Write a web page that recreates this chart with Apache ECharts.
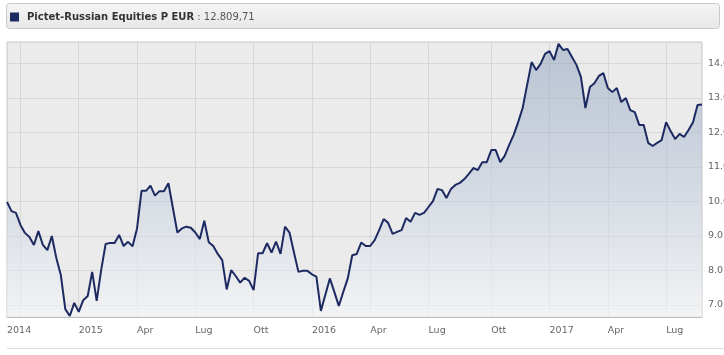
<!DOCTYPE html>
<html>
<head>
<meta charset="utf-8">
<script src="https://cdn.jsdelivr.net/npm/echarts@6/dist/echarts.min.js"></script>
<style>
html,body{margin:0;padding:0;background:#fff;}
#chart{width:724px;height:355px;}
</style>
</head>
<body>
<div id="chart"></div>
<script>
// ---- data ----
var seriesName = 'Pictet-Russian Equities P EUR';
var lastValueText = '12.809,71';
var startDate = '2014-09-09';   // first weekly observation
var monthNames = ['Gen','Feb','Mar','Apr','Mag','Giu','Lug','Ago','Set','Ott','Nov','Dic'];
var quarterTicks = ['2014-10-01','2015-01-01','2015-04-01','2015-07-01','2015-10-01','2016-01-01','2016-04-01','2016-07-01','2016-10-01','2017-01-01','2017-04-01','2017-07-01'];
var navValues = [
 9.99, 9.72, 9.67, 9.32, 9.09, 8.97, 8.74, 9.14, 8.74, 8.59,
 9.00, 8.36, 7.87, 6.88, 6.68, 7.06, 6.80, 7.14, 7.26, 7.96,
 7.12, 8.01, 8.77, 8.80, 8.80, 9.03, 8.71, 8.83, 8.70, 9.22,
 10.31, 10.31, 10.46, 10.17, 10.30, 10.30, 10.53, 9.81, 9.10, 9.22,
 9.27, 9.24, 9.10, 8.91, 9.44, 8.82, 8.71, 8.48, 8.30, 7.45,
 8.01, 7.84, 7.65, 7.79, 7.70, 7.43, 8.50, 8.50, 8.79, 8.52,
 8.84, 8.48, 9.27, 9.10, 8.52, 7.96, 7.99, 7.99, 7.89, 7.82,
 6.83, 7.30, 7.77, 7.38, 6.97, 7.38, 7.77, 8.44, 8.48, 8.81,
 8.71, 8.71, 8.88, 9.17, 9.49, 9.38, 9.06, 9.12, 9.17, 9.52,
 9.41, 9.67, 9.61, 9.67, 9.84, 10.01, 10.36, 10.33, 10.10, 10.36,
 10.48, 10.54, 10.65, 10.80, 10.97, 10.91, 11.14, 11.14, 11.49, 11.49,
 11.14, 11.32, 11.64, 11.93, 12.30, 12.71, 13.38, 14.04, 13.81, 13.99,
 14.28, 14.36, 14.10, 14.57, 14.39, 14.42, 14.19, 13.96, 13.61, 12.71,
 13.32, 13.43, 13.64, 13.72, 13.29, 13.17, 13.29, 12.88, 13.00, 12.65,
 12.59, 12.22, 12.22, 11.70, 11.61, 11.70, 11.78, 12.30, 12.04, 11.81,
 11.96, 11.87, 12.07, 12.30, 12.80, 12.81
];

// ---- weekly date categories ----
function pad(n){return (n<10?'0':'')+n;}
var t0 = Date.parse(startDate + 'T00:00:00Z');
var dates = [];
for (var i = 0; i < navValues.length; i++) {
  var d = new Date(t0 + i * 7 * 86400000);
  dates.push(d.getUTCFullYear() + '-' + pad(d.getUTCMonth()+1) + '-' + pad(d.getUTCDate()));
}
function ts(s){return Date.parse(s + 'T00:00:00Z');}
// nearest category for each quarter start
var tickIdx = {};
quarterTicks.forEach(function(q){
  var best = 0, bd = Infinity;
  for (var i = 0; i < dates.length; i++) {
    var dd = Math.abs(ts(dates[i]) - ts(q));
    if (dd < bd) { bd = dd; best = i; }
  }
  tickIdx[best] = q;
});
var labelIdx = {0: startDate.slice(0,4)};
Object.keys(tickIdx).forEach(function(k){
  var idx = +k;
  if (idx < 6) return; // hidden: overlaps the first label
  var q = tickIdx[k];
  var m = +q.slice(5,7) - 1;
  labelIdx[idx] = m === 0 ? q.slice(0,4) : monthNames[m];
});

var chart = echarts.init(document.getElementById('chart'), null, {renderer:'canvas'});
var option = {
  animation: false,
  backgroundColor: '#ffffff',
  textStyle: {fontFamily: 'DejaVu Sans'},
  graphic: [
    {type:'rect', z:-1, shape:{x:6.5, y:3.5, width:713, height:25, r:3},
     style:{fill:new echarts.graphic.LinearGradient(0,0,0,1,[{offset:0,color:'#f5f5f5'},{offset:1,color:'#e7e7e7'}]), stroke:'#c9c9c9', lineWidth:1}},
    {type:'line', shape:{x1:7, y1:348.5, x2:724, y2:348.5}, style:{stroke:'#dcdcdc', lineWidth:1}}
  ],
  legend: {
    left: 10, top: 12, padding: 0,
    itemWidth: 9, itemHeight: 9, itemGap: 6,
    icon: 'rect',
    data: [seriesName],
    formatter: function(name){ return '{b|' + name + '}{n| : ' + lastValueText + '}'; },
    textStyle: {
      padding: [0,0,0,3],
      rich: {
        b: {fontFamily:'DejaVu Sans', fontWeight:'bold', fontSize:10, color:'#333'},
        n: {fontFamily:'DejaVu Sans', fontSize:10, color:'#555'}
      }
    }
  },
  grid: {left:7, right:22, top:42, bottom:38, show:true, outerBoundsMode:'none', containLabel:false,
         backgroundColor:'#ebebeb', borderColor:'#c6c6c6', borderWidth:1},
  xAxis: {
    type:'category', data: dates, boundaryGap:false,
    axisLine:{show:true, lineStyle:{color:'#bdbdbd'}},
    axisTick:{show:false},
    splitLine:{show:true, interval:function(i){return tickIdx.hasOwnProperty(i);}, lineStyle:{color:'#d7d7d7', width:1}},
    axisLabel:{
      interval:function(i){return labelIdx.hasOwnProperty(i);},
      formatter:function(v, i){return labelIdx[i] || '';},
      align:'left', margin:9, color:'#666', fontSize:9.5, fontFamily:'DejaVu Sans'
    }
  },
  yAxis: {
    type:'value', position:'right', min:6.652, max:14.623, splitNumber:8, minInterval:1, maxInterval:1,
    axisLine:{show:false}, axisTick:{show:false},
    splitLine:{show:true, lineStyle:{color:'#d7d7d7', width:1}},
    axisLabel:{
      formatter:function(v){return Math.abs(v-Math.round(v))<1e-6 ? v.toFixed(1) : '';},
      color:'#666', fontSize:9.5, fontFamily:'DejaVu Sans', margin:6, align:'left'
    }
  },
  series: [{
    name: seriesName, type:'line', data: navValues, symbol:'none', smooth:false,
    itemStyle:{color:'#1d2a62'},
    lineStyle:{color:'#1d2a62', width:2},
    areaStyle:{color:new echarts.graphic.LinearGradient(0,0,0,1,[
      {offset:0, color:'rgba(128,150,183,0.66)'},
      {offset:1, color:'rgba(248,250,252,0.8)'}
    ])}
  }]
};
chart.setOption(option);
</script>
</body>
</html>
